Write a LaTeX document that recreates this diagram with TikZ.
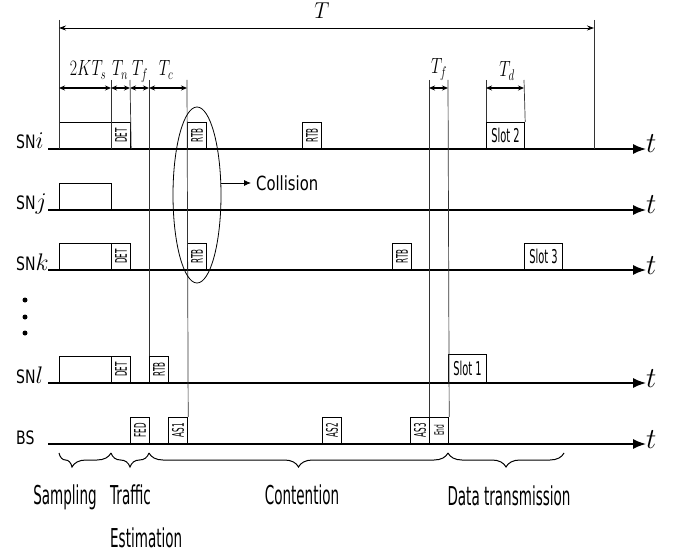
\RequirePackage{fix-cm}
\documentclass[tikz,border=0pt]{standalone}
\usepackage{fontspec}
\usepackage{graphicx}
\usetikzlibrary{arrows.meta,decorations.pathreplacing,shapes.geometric}
\newfontfamily\cfont[FakeStretch=0.52]{DejaVu Sans}
\newfontfamily\rfont[FakeStretch=0.45]{DejaVu Sans}
\newfontfamily\sfont[FakeStretch=0.76]{DejaVu Sans}
\newcommand\cmth[1]{\scalebox{0.72}[1]{$#1$}}
\begin{document}
\begin{tikzpicture}[x=1pt,y=-1pt,
  axis/.style={line width=1.5pt,-{Latex[length=13pt,width=10pt]}},
  vline/.style={line width=0.7pt,black!80},
  box/.style={draw,line width=1.2pt,inner sep=0pt,anchor=south west,minimum height=26pt},
  lab/.style={font=\rfont\fontsize{16}{16}\selectfont},
  slot/.style={font=\cfont\fontsize{19}{19}\selectfont},
  dim/.style={line width=1.2pt,{Stealth[length=6pt,width=5pt]}-{Stealth[length=6pt,width=5pt]}},
  tarrow/.style={line width=0.8pt,{Stealth[length=7pt,width=5pt]}-{Stealth[length=7pt,width=5pt]}},
  brc/.style={decorate,decoration={brace,mirror,amplitude=14pt},line width=1pt},
  sn/.style={anchor=base west,inner sep=0pt,font=\sfont\fontsize{18.5}{18.5}\selectfont},
  tl/.style={anchor=base west,inner sep=0pt,font=\fontsize{29}{29}\selectfont},
  ml/.style={anchor=base,inner sep=0pt,font=\fontsize{22}{22}\selectfont},
  bl/.style={anchor=base,inner sep=0pt,font=\cfont\fontsize{26}{26}\selectfont}]
\useasboundingbox (0,0) rectangle (677,556);

% ---- axis labels
\node[sn] (lI) at (16,149) {SN\fontsize{24}{24}\selectfont$i$};
\node[sn] (lJ) at (16,210) {SN\fontsize{24}{24}\selectfont$j$};
\node[sn] (lK) at (16,270) {SN\fontsize{24}{24}\selectfont$k$};
\node[sn] (lL) at (16,383) {SN\fontsize{24}{24}\selectfont$l$};
\node[sn] (lB) at (16,444) {BS};

% ---- axes
\coordinate (aI) at (48,149);
\coordinate (aJ) at (48,210);
\coordinate (aK) at (48,270);
\coordinate (aL) at (48,383);
\coordinate (aB) at (48,444);
\node[tl] (tI) at (646,153) {$t$};
\node[tl] (tJ) at (646,214) {$t$};
\node[tl] (tK) at (646,274) {$t$};
\node[tl] (tL) at (646,387) {$t$};
\node[tl] (tB) at (646,448) {$t$};
\draw[axis] (aI) -- (tI.west |- aI);
\draw[axis] (aJ) -- (tJ.west |- aJ);
\draw[axis] (aK) -- (tK.west |- aK);
\draw[axis] (aL) -- (tL.west |- aL);
\draw[axis] (aB) -- (tB.west |- aB);

% ---- dots
\fill (25,300) circle (2.5pt);
\fill (25,317) circle (2.5pt);
\fill (25,333) circle (2.5pt);

% ---- boxes SN i
\node[box,minimum width=52pt] (sampI) at (59,149) {};
\node[box,minimum width=19pt,lab] (detI) at (111,149) {\rotatebox{90}{DET}};
\node[box,minimum width=19pt,lab] (rtbIa) at (187,149) {\rotatebox{90}{RTB}};
\node[box,minimum width=19pt,lab] (rtbIb) at (302,149) {\rotatebox{90}{RTB}};
\node[box,minimum width=38pt,slot] (slot2) at (486,149) {Slot 2};
% SN j
\node[box,minimum width=52pt] (sampJ) at (59,210) {};
% SN k
\node[box,minimum width=52pt] (sampK) at (59,270) {};
\node[box,minimum width=19pt,lab] (detK) at (111,270) {\rotatebox{90}{DET}};
\node[box,minimum width=19pt,lab] (rtbKa) at (187,270) {\rotatebox{90}{RTB}};
\node[box,minimum width=19pt,lab] (rtbKb) at (392,270) {\rotatebox{90}{RTB}};
\node[box,minimum width=38pt,slot] (slot3) at (524,270) {Slot 3};
% SN l
\node[box,minimum width=52pt] (sampL) at (59,383) {};
\node[box,minimum width=19pt,lab] (detL) at (111,383) {\rotatebox{90}{DET}};
\node[box,minimum width=19pt,lab] (rtbL) at (149,383) {\rotatebox{90}{RTB}};
\node[box,minimum width=38pt,minimum height=28pt,slot] (slot1) at (448,383) {Slot 1};
% BS
\node[box,minimum width=19pt,lab] (fed) at (130,444) {\rotatebox{90}{FED}};
\node[box,minimum width=19pt,lab] (as1) at (168,444) {\rotatebox{90}{AS1}};
\node[box,minimum width=19pt,lab] (as2) at (322,444) {\rotatebox{90}{AS2}};
\node[box,minimum width=19pt,lab] (as3) at (410,444) {\rotatebox{90}{AS3}};
\node[box,minimum width=19pt,lab] (endb) at (429,444) {\rotatebox{90}{\fontsize{13}{13}\selectfont End}};

% ---- vertical guide lines
\coordinate (v0) at (59,20);
\coordinate (v1) at (111,80);
\coordinate (v2) at (130,80);
\coordinate (v3) at (149,80);
\coordinate (v4) at (187,80);
\coordinate (v5) at (429,80);
\coordinate (v6) at (448,80);
\coordinate (v7) at (486,80);
\coordinate (v8) at (524,80);
\coordinate (v9) at (594,20);
\coordinate (v9b) at (594,149);
\draw[vline] (v0) -- (sampI.south west);
\draw[vline] (v1) -- (detI.south west);
\draw[vline] (v2) -- (detI.south east);
\draw[vline] (v3) -- (rtbL.north west);
\draw[vline] (v4) -- (as1.north east);
\draw[vline] (v5) -- (endb.north west);
\draw[vline] (v6) -- (endb.north east);
\draw[vline] (v7) -- (slot2.north west);
\draw[vline] (v8) -- (slot2.north east);
\draw[vline] (v9) -- (v9b);

% ---- T arrow
\coordinate (tA) at (59,28);
\coordinate (tZ) at (594,28);
\draw[tarrow] (tA) -- (tZ);
\node[anchor=center,inner sep=0pt,font=\fontsize{23}{23}\selectfont] (Tlab) at (322,11) {\scalebox{0.92}[1]{$T$}};

% ---- dimension arrows
\coordinate (d0) at (59,88);
\coordinate (d1) at (111,88);
\coordinate (d2) at (130,88);
\coordinate (d3) at (149,88);
\coordinate (d4) at (187,88);
\coordinate (d5) at (429,88);
\coordinate (d6) at (448,88);
\coordinate (d7) at (486,88);
\coordinate (d8) at (524,88);
\draw[dim] (d0) -- (d1);
\draw[dim] (d1) -- (d2);
\draw[dim] (d2) -- (d3);
\draw[dim] (d3) -- (d4);
\draw[dim] (d5) -- (d6);
\draw[dim] (d7) -- (d8);
\node[ml] (l2k) at (88,76) {\cmth{2KT_s}};
\node[ml] (ltn) at (120,76) {\cmth{T_n}};
\node[ml] (ltf) at (140,76) {\cmth{T_f}};
\node[ml] (ltc) at (166,76) {\cmth{T_c}};
\node[ml] (ltf2) at (439,74) {\cmth{T_f}};
\node[ml] (ltd) at (507,77) {\cmth{T_d}};

% ---- collision
\node[draw,ellipse,line width=0.8pt,minimum width=48pt,minimum height=176pt,inner sep=0pt] (ell) at (197,195) {};
\node[anchor=west,inner sep=0pt,font=\sfont\fontsize{19.5}{19.5}\selectfont] (col) at (256,183) {Collision};
\draw[line width=0.8pt,-{Latex[length=7pt,width=6pt]}] (col.west -| ell.east) -- ([xshift=-5pt]col.west);

% ---- braces
\coordinate (b0) at (59,453);
\coordinate (b1) at (111,453);
\coordinate (b2) at (149,453);
\coordinate (b3) at (448,453);
\coordinate (b4) at (564,453);
\draw[brc,decoration={aspect=0.25}] (b0) -- (b1);
\draw[brc] (b1) -- (b2);
\draw[brc] (b2) -- (b3);
\draw[brc] (b3) -- (b4);
\node[bl] (samp) at (65,504) {Sampling};
\node[bl,anchor=base west] (traf) at (110,504) {Traffic};
\node[bl,anchor=base west] (esti) at (110,547) {Estimation};
\node[bl] (cont) at (302,504) {Contention};
\node[bl] (data) at (509,505) {Data transmission};
\end{tikzpicture}
\end{document}
